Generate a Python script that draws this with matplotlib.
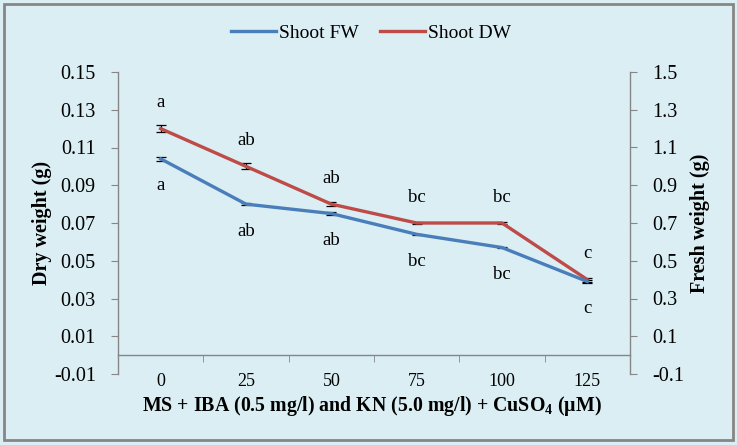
import numpy as np
import matplotlib.pyplot as plt
from matplotlib.lines import Line2D
from matplotlib.patches import Rectangle

plt.rcParams['font.family'] = 'Liberation Serif'
plt.rcParams['mathtext.fontset'] = 'custom'
plt.rcParams['mathtext.rm'] = 'Liberation Serif'
plt.rcParams['mathtext.bf'] = 'Liberation Serif:bold'

# data
cuso4 = ['0', '25', '50', '75', '100', '125']
shoot_dw = [0.120, 0.100, 0.080, 0.070, 0.070, 0.040]      # left axis
shoot_dw_err = [0.0018, 0.0016, 0.0010, 0.0005, 0.0005, 0.0010]
shoot_fw = [1.04, 0.80, 0.75, 0.64, 0.57, 0.39]            # right axis
shoot_fw_err = [0.010, 0.006, 0.006, 0.004, 0.005, 0.006]
dw_letters = ['a', 'ab', 'ab', 'bc', 'bc', 'c']
fw_letters = ['a', 'ab', 'ab', 'bc', 'bc', 'c']

BG = '#DAEEF3'
GRID = '#868686'
BLUE = '#4A7EBB'
RED = '#BE4B48'

fig = plt.figure(figsize=(7.37, 4.45), dpi=100, facecolor=BG)
ax = fig.add_axes([118 / 737, 1 - 374 / 445, 512 / 737, 302 / 445])
ax.set_facecolor('none')
ax2 = ax.twinx()

x = np.arange(len(cuso4))

# dry weight on the left axis
ax.errorbar(x, shoot_dw, yerr=shoot_dw_err, color=RED, lw=2.4,
            ecolor='black', elinewidth=0.9, capsize=3.5, capthick=0.9, zorder=3)
for xi, yi, t in zip(x, shoot_dw, dw_letters):
    ax.annotate(t, (xi, yi), xytext=(0, 18.5), textcoords='offset points',
                ha='center', va='center', fontsize=13.5)

# fresh weight on the right axis
ax2.errorbar(x, shoot_fw, yerr=shoot_fw_err, color=BLUE, lw=2.4,
             ecolor='black', elinewidth=0.9, capsize=3.5, capthick=0.9, zorder=3)
for xi, yi, t in zip(x, shoot_fw, fw_letters):
    ax2.annotate(t, (xi, yi), xytext=(0, -19.5), textcoords='offset points',
                 ha='center', va='center', fontsize=13.5)

ax.set_xlim(-0.5, len(cuso4) - 0.5)
ax.set_ylim(-0.01, 0.15)
ax.set_yticks(np.arange(-0.01, 0.151, 0.02))
ax.set_yticklabels([f'{v:.2f}' for v in np.arange(-0.01, 0.151, 0.02)])
ax2.set_ylim(-0.1, 1.5)
ax2.set_yticks(np.arange(-0.1, 1.51, 0.2))
ax2.set_yticklabels([f'{v:.1f}' for v in np.arange(-0.1, 1.51, 0.2)])

# category axis crosses at zero, ticks between categories
ax.spines['bottom'].set_position(('data', 0))
ax.set_xticks(x)
ax.set_xticklabels(cuso4, fontsize=13)
ax.set_xticks(np.arange(-0.5, len(cuso4)), minor=True)
ax.tick_params(axis='x', which='major', length=0, pad=13)
ax.tick_params(axis='x', which='minor', length=5, color=GRID, direction='out')
ax.tick_params(axis='y', length=5, color=GRID, labelsize=14.5, pad=11)
ax2.tick_params(axis='y', length=5, color=GRID, labelsize=14.5, pad=11)

for a in (ax, ax2):
    a.spines['top'].set_visible(False)
    for s in a.spines.values():
        s.set_color(GRID)
        s.set_linewidth(1)
ax.spines['right'].set_visible(False)
ax2.spines['left'].set_visible(False)
ax2.spines['bottom'].set_visible(False)

ax.set_ylabel('Dry weight (g)', fontsize=14.5, fontweight='bold', labelpad=1)
ax2.set_ylabel('Fresh weight (g)', fontsize=14.5, fontweight='bold', labelpad=4)
fig.text(372 / 737, 1 - 406 / 445,
         r'MS + IBA (0.5 mg/l) and KN (5.0 mg/l) + CuSO$_\mathbf{4}$ (µM)',
         ha='center', va='center', fontsize=14.3, fontweight='bold')

handles = [Line2D([], [], color=BLUE, lw=2.4), Line2D([], [], color=RED, lw=2.4)]
fig.legend(handles, ['Shoot FW', 'Shoot DW'], loc='center',
           bbox_to_anchor=(371 / 737, 1 - 33 / 445), ncol=2, frameon=False,
           fontsize=14, handlelength=2.3, handletextpad=0.15, columnspacing=1.1)

fig.patches.append(Rectangle((0.006, 0.011), 0.988, 0.981, transform=fig.transFigure,
                             fill=False, edgecolor=GRID, lw=2))

fig.savefig('out.png', dpi=100, facecolor=BG)
